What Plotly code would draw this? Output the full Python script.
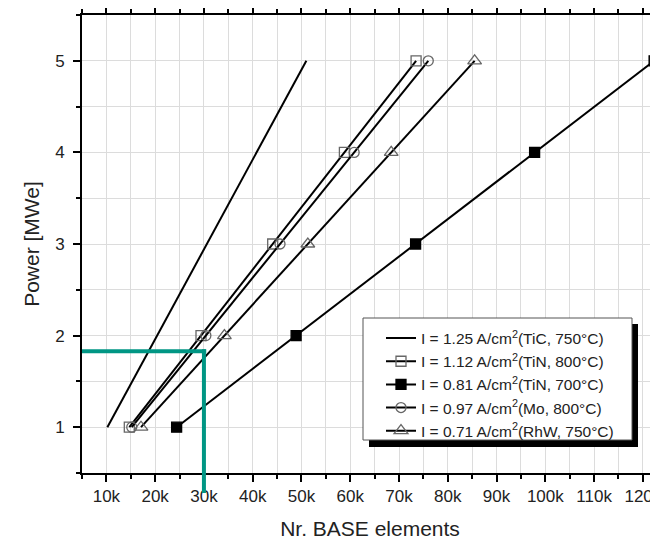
import plotly.graph_objects as go

power = [1, 2, 3, 4, 5]
tic_750 = [10200, 20400, 30600, 40800, 51000]
tin_800 = [14700, 29400, 44100, 58800, 73500]
tin_700 = [24400, 48900, 73400, 97800, 122300]
mo_800 = [15200, 30400, 45600, 60800, 76000]
rhw_750 = [17100, 34200, 51300, 68400, 85500]

names = [
    "I = 1.25 A/cm<sup>2</sup>(TiC, 750°C)",
    "I = 1.12 A/cm<sup>2</sup>(TiN, 800°C)",
    "I = 0.81 A/cm<sup>2</sup>(TiN, 700°C)",
    "I = 0.97 A/cm<sup>2</sup>(Mo, 800°C)",
    "I = 0.71 A/cm<sup>2</sup>(RhW, 750°C)",
]

x_tickvals = [10000, 20000, 30000, 40000, 50000, 60000, 70000, 80000, 90000, 100000, 110000, 120000]
x_ticktext = ["10k", "20k", "30k", "40k", "50k", "60k", "70k", "80k", "90k", "100k", "110k", "120k"]
y_tickvals = [1, 2, 3, 4, 5]

marker_x = 30000
marker_y = 1.83

XR = [5000, 123100]
YR = [0.5, 5.5]

fig = go.Figure()
series = [
    (tic_750, None, None),
    (tin_800, "square-open", "#666"),
    (tin_700, "square", "black"),
    (mo_800, "circle-open", "#666"),
    (rhw_750, "triangle-up-open", "#666"),
]
for i, (xs, sym, mc) in enumerate(series):
    if sym is None:
        fig.add_trace(go.Scatter(x=xs, y=power, mode="lines", name=names[i],
                                 line=dict(color="black", width=2), legendgroup=f"g{i}"))
    else:
        fig.add_trace(go.Scatter(
            x=xs, y=power, mode="lines+markers", name=names[i],
            line=dict(color="black", width=2),
            marker=dict(symbol=sym, size=10 if "triangle" not in sym else 12,
                        color=mc, line=dict(color=mc, width=1.3)),
            legendgroup=f"g{i}", cliponaxis=False))

def px(v):
    return (v - XR[0]) / (XR[1] - XR[0])

def py(v):
    return (v - YR[0]) / (YR[1] - YR[0])

# page has an 8px body margin; figure sized so that it fills the window
OFF = 8
W, H = 650, 537
L, R, T, B = 74, 0, 7, 72
pw, ph = W - L - R, H - T - B

def pxx(p):  # page x pixel -> paper
    return (p - OFF - L) / pw

def pyy(p):  # page y pixel -> paper
    return (H - B - (p - OFF)) / ph

shapes = [
    # legend shadow
    dict(type="rect", xref="paper", yref="paper", x0=pxx(369), x1=pxx(638), y0=pyy(447), y1=pyy(324),
         fillcolor="black", line=dict(width=0), layer="above"),
    # legend box
    dict(type="rect", xref="paper", yref="paper", x0=pxx(363), x1=pxx(632), y0=pyy(440), y1=pyy(318),
         fillcolor="white", line=dict(color="#555", width=1), layer="above"),
    # teal guide lines
    dict(type="line", xref="paper", yref="paper", x0=0, x1=px(marker_x) + 0.004,
         y0=py(marker_y), y1=py(marker_y), line=dict(color="#009684", width=4), layer="above"),
    dict(type="line", xref="paper", yref="paper", x0=px(marker_x), x1=px(marker_x),
         y0=py(marker_y) + 0.004, y1=pyy(493), line=dict(color="#009684", width=4), layer="above"),
]

fig.update_layout(
    width=W, height=H,
    margin=dict(l=L, r=R, t=T, b=B, pad=0, autoexpand=False),
    plot_bgcolor="white", paper_bgcolor="white",
    font=dict(family="Liberation Sans, Arial", color="#222"),
    shapes=shapes,
    showlegend=True,
    legend=dict(x=pxx(381), y=pyy(321.5), xanchor="left", yanchor="top",
                bgcolor="rgba(0,0,0,0)", borderwidth=0,
                font=dict(size=15.5, color="#222"), tracegroupgap=0),
)
fig.update_xaxes(
    range=XR, tickvals=x_tickvals, ticktext=x_ticktext, automargin=False,
    ticklabeloverflow="allow",
    showline=True, linecolor="black", linewidth=2, mirror="ticks",
    ticks="outside", ticklen=7, tickwidth=1.5, tickcolor="black",
    tickfont=dict(size=17, color="#222"),
    showgrid=True, gridcolor="#dcdcdc", gridwidth=1, zeroline=False,
    minor=dict(dtick=5000, ticks="outside", ticklen=4, tickwidth=1.5, tickcolor="black",
               showgrid=True, gridcolor="#dcdcdc", gridwidth=1),
    title=dict(text="Nr. BASE elements", font=dict(size=21, color="#222"), standoff=16),
)
fig.update_yaxes(
    range=YR, tickvals=y_tickvals, automargin=False,
    showline=True, linecolor="black", linewidth=2, mirror=False,
    ticks="outside", ticklen=7, tickwidth=1.5, tickcolor="black",
    tickfont=dict(size=17, color="#222"), ticklabelstandoff=5,
    showgrid=True, gridcolor="#dcdcdc", gridwidth=1, zeroline=False,
    minor=dict(dtick=0.5, ticks="outside", ticklen=4, tickwidth=1.5, tickcolor="black",
               showgrid=True, gridcolor="#dcdcdc", gridwidth=1),
    title=dict(text="Power [MWe]", font=dict(size=21, color="#222"), standoff=10),
)

fig.write_html("out.html")
